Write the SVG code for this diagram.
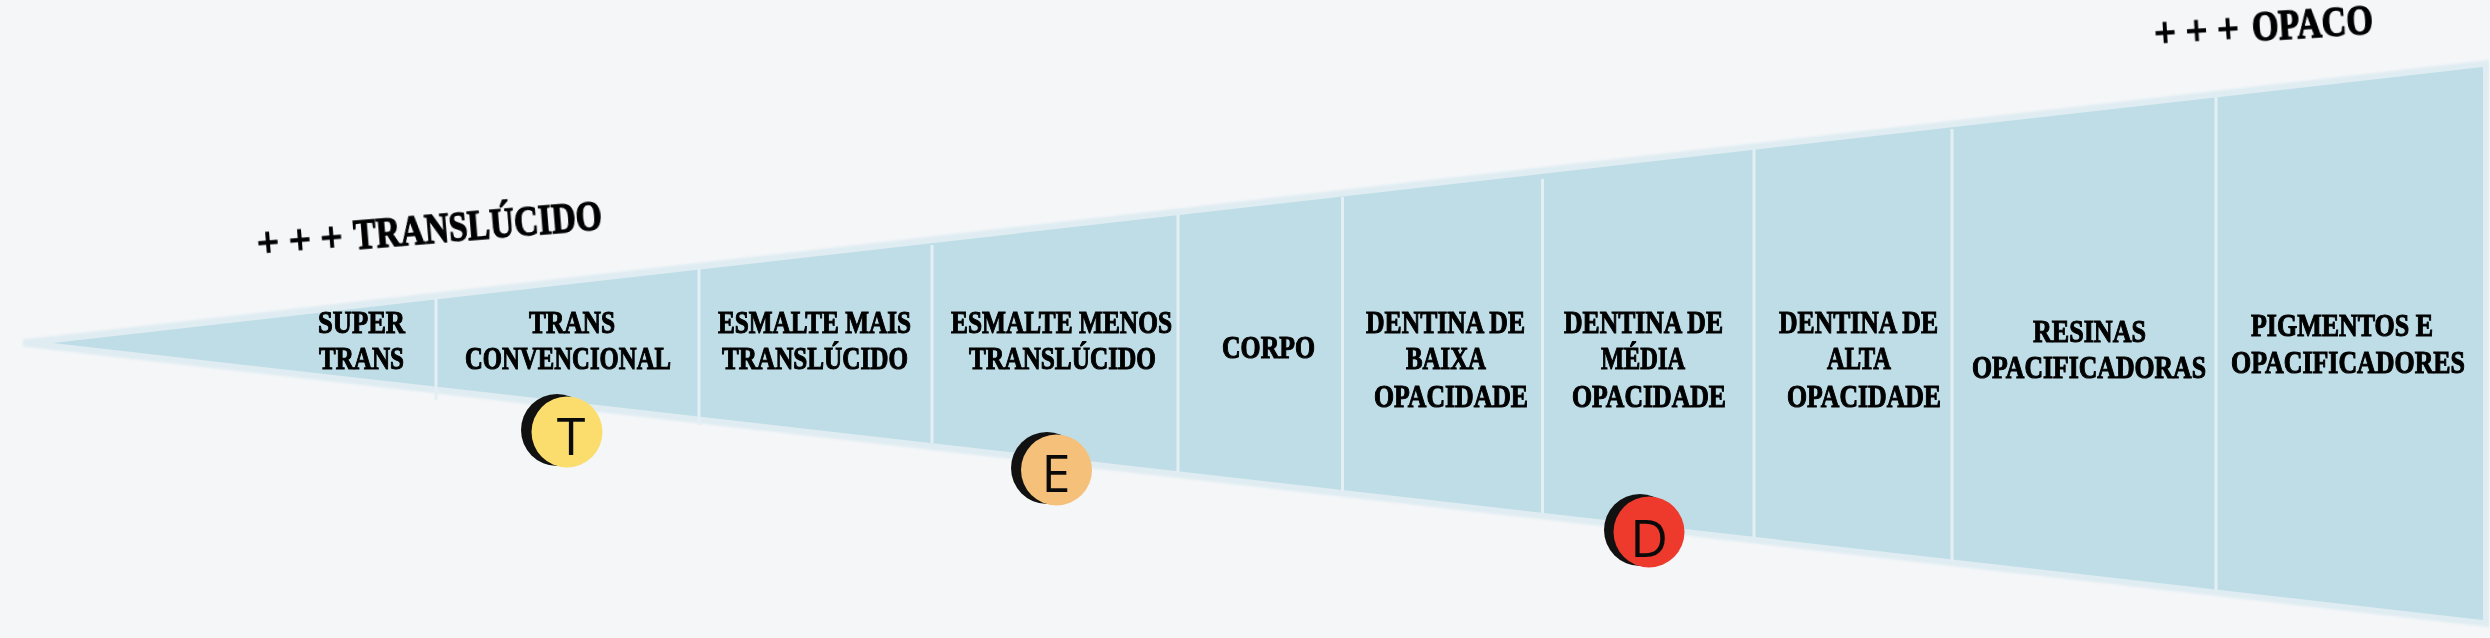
<svg xmlns="http://www.w3.org/2000/svg" width="2490" height="638" viewBox="0 0 2490 638">
  <defs>
    <filter id="soft" filterUnits="userSpaceOnUse" x="0" y="0" width="2490" height="638"><feGaussianBlur stdDeviation="1.2"/></filter>
    <filter id="txt" filterUnits="userSpaceOnUse" x="0" y="0" width="2490" height="638"><feGaussianBlur stdDeviation="0.5"/></filter>
  </defs>
  <style>
    .lbl{font-family:"Liberation Serif","DejaVu Serif",serif;font-weight:700;font-size:32px;fill:#050505;stroke:#050505;stroke-width:1.1px}
    .big{font-size:43px;stroke-width:1.3px}
    .let{font-family:"Open Sans","Noto Sans",sans-serif;font-size:52px;fill:#0a0a0a;text-anchor:middle}
    .div{stroke:#e3eff4;stroke-width:3;fill:none}
    .blk{fill:#111}
  </style>
  <rect width="2490" height="638" fill="#f4f6f8"/>
  <g id="wedge">
    <polygon points="23,339.5 2489,60 2489,627 23,346.5" fill="#dfecf2" filter="url(#soft)"/>
    <polygon points="53,343 2483,67 2483,620" fill="#bfdde7"/>
  </g>
  <g id="connectors">
    <line class="div" x1="436" y1="298" x2="436" y2="400"/>
    <line class="div" x1="699" y1="269" x2="699" y2="425"/>
    <line class="div" x1="932" y1="245" x2="932" y2="443"/>
    <line class="div" x1="1178" y1="215" x2="1178" y2="472"/>
    <line class="div" x1="1342.5" y1="197" x2="1342.5" y2="491"/>
    <line class="div" x1="1542.5" y1="179" x2="1542.5" y2="513"/>
    <line class="div" x1="1754" y1="149" x2="1754" y2="537"/>
    <line class="div" x1="1952" y1="129" x2="1952" y2="561"/>
    <line class="div" x1="2216" y1="97" x2="2216" y2="590"/>
  </g>
  <g id="labels" filter="url(#txt)">
    <g id="super-trans">
      <text class="lbl" x="318" y="333" textLength="87" lengthAdjust="spacingAndGlyphs">SUPER</text>
      <text class="lbl" x="319" y="369" textLength="85" lengthAdjust="spacingAndGlyphs">TRANS</text>
    </g>
    <g id="trans-convencional">
      <text class="lbl" x="529" y="333" textLength="86" lengthAdjust="spacingAndGlyphs">TRANS</text>
      <text class="lbl" x="465" y="369" textLength="206" lengthAdjust="spacingAndGlyphs">CONVENCIONAL</text>
    </g>
    <g id="esmalte-mais">
      <text class="lbl" x="718" y="333" textLength="193" lengthAdjust="spacingAndGlyphs">ESMALTE MAIS</text>
      <text class="lbl" x="722" y="369" textLength="186" lengthAdjust="spacingAndGlyphs">TRANSLÚCIDO</text>
    </g>
    <g id="esmalte-menos">
      <text class="lbl" x="951" y="333" textLength="221" lengthAdjust="spacingAndGlyphs">ESMALTE MENOS</text>
      <text class="lbl" x="969" y="369" textLength="187" lengthAdjust="spacingAndGlyphs">TRANSLÚCIDO</text>
    </g>
    <g id="corpo">
      <text class="lbl" x="1222" y="358" textLength="93" lengthAdjust="spacingAndGlyphs">CORPO</text>
    </g>
    <g id="dentina-baixa">
      <text class="lbl" x="1366" y="333" textLength="159" lengthAdjust="spacingAndGlyphs">DENTINA DE</text>
      <text class="lbl" x="1406" y="369" textLength="80" lengthAdjust="spacingAndGlyphs">BAIXA</text>
      <text class="lbl" x="1374" y="407" textLength="154" lengthAdjust="spacingAndGlyphs">OPACIDADE</text>
    </g>
    <g id="dentina-media">
      <text class="lbl" x="1564" y="333" textLength="159" lengthAdjust="spacingAndGlyphs">DENTINA DE</text>
      <text class="lbl" x="1601" y="369" textLength="84" lengthAdjust="spacingAndGlyphs">MÉDIA</text>
      <text class="lbl" x="1572" y="407" textLength="154" lengthAdjust="spacingAndGlyphs">OPACIDADE</text>
    </g>
    <g id="dentina-alta">
      <text class="lbl" x="1779" y="333" textLength="159" lengthAdjust="spacingAndGlyphs">DENTINA DE</text>
      <text class="lbl" x="1827" y="369" textLength="64" lengthAdjust="spacingAndGlyphs">ALTA</text>
      <text class="lbl" x="1787" y="407" textLength="154" lengthAdjust="spacingAndGlyphs">OPACIDADE</text>
    </g>
    <g id="resinas">
      <text class="lbl" x="2033" y="342" textLength="113" lengthAdjust="spacingAndGlyphs">RESINAS</text>
      <text class="lbl" x="1972" y="378" textLength="234" lengthAdjust="spacingAndGlyphs">OPACIFICADORAS</text>
    </g>
    <g id="pigmentos">
      <text class="lbl" x="2251" y="336" textLength="182" lengthAdjust="spacingAndGlyphs">PIGMENTOS E</text>
      <text class="lbl" x="2231" y="373" textLength="234" lengthAdjust="spacingAndGlyphs">OPACIFICADORES</text>
    </g>
    <g id="translucido-title" transform="translate(258 257) rotate(-4.6)">
      <text class="lbl big" x="0" y="0" textLength="86" lengthAdjust="spacingAndGlyphs">+ + +</text>
      <text class="lbl big" x="97" y="0" textLength="249" lengthAdjust="spacingAndGlyphs">TRANSLÚCIDO</text>
    </g>
    <g id="opaco-title" transform="translate(2155 47) rotate(-3.5)">
      <text class="lbl big" x="0" y="0" textLength="85" lengthAdjust="spacingAndGlyphs">+ + +</text>
      <text class="lbl big" x="98" y="0" textLength="121" lengthAdjust="spacingAndGlyphs">OPACO</text>
    </g>
  </g>
  <g id="badge-t">
    <circle class="blk" cx="557" cy="430" r="36"/>
    <circle cx="567" cy="432" r="35.5" fill="#fbdd6d"/>
    <text class="let" x="571" y="455">T</text>
  </g>
  <g id="badge-e">
    <circle class="blk" cx="1047" cy="468" r="36"/>
    <circle cx="1056.5" cy="470" r="35.5" fill="#f5c07a"/>
    <text class="let" x="1056" y="492">E</text>
  </g>
  <g id="badge-d">
    <circle class="blk" cx="1640" cy="530" r="36"/>
    <circle cx="1649" cy="532" r="35.5" fill="#ee3a2c"/>
    <text class="let" x="1649" y="557">D</text>
  </g>
</svg>
